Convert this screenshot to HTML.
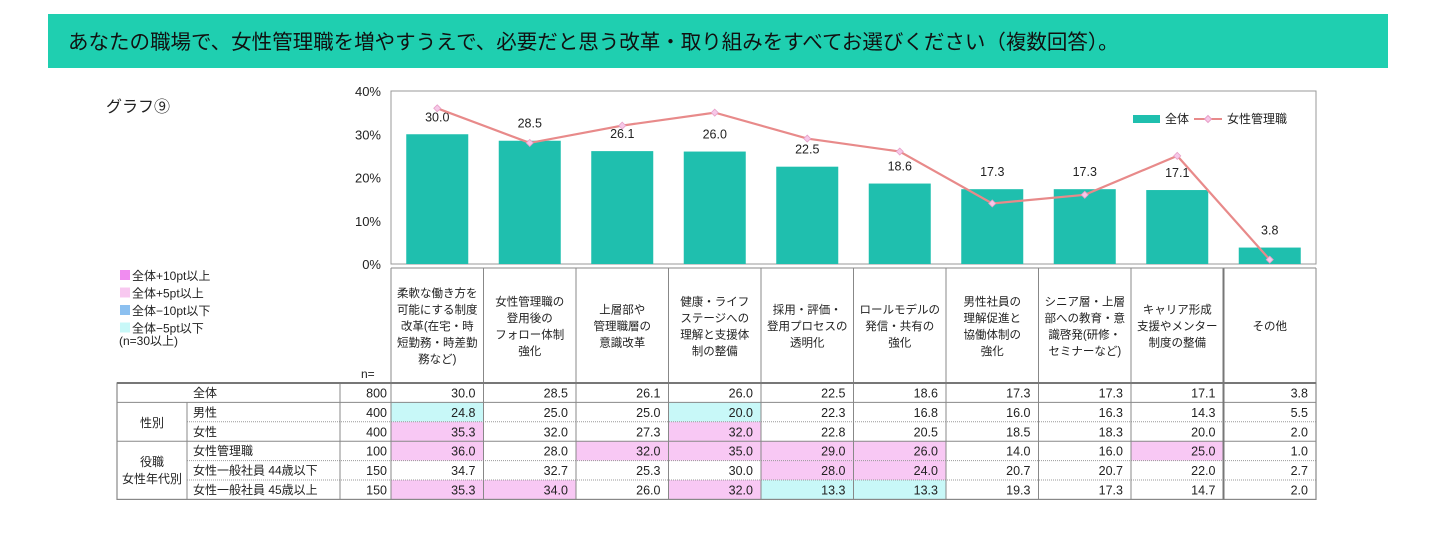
<!DOCTYPE html>
<html><head><meta charset="utf-8">
<style>
body{margin:0;background:#fff;width:1438px;height:531px;overflow:hidden;font-family:"Liberation Sans","Noto Sans CJK JP",sans-serif;}
svg text{font-family:"Liberation Sans","Noto Sans CJK JP",sans-serif;fill:#222;}
</style></head>
<body>
<svg id="c" width="1438" height="531" xmlns="http://www.w3.org/2000/svg">
<rect x="48" y="14" width="1340" height="54" fill="#1fcfb0"/>
<text x="68" y="49" font-size="20.5" style="fill:#111">あなたの職場で、女性管理職を増やすうえで、必要だと思う改革・取り組みをすべてお選びください（複数回答）。</text>
<text x="106" y="112" font-size="16">グラフ⑨</text>
</svg>
<script>
const categories=[["柔軟な働き方を","可能にする制度","改革(在宅・時","短勤務・時差勤","務など)"],["女性管理職の","登用後の","フォロー体制","強化"],["上層部や","管理職層の","意識改革"],["健康・ライフ","ステージへの","理解と支援体","制の整備"],["採用・評価・","登用プロセスの","透明化"],["ロールモデルの","発信・共有の","強化"],["男性社員の","理解促進と","協働体制の","強化"],["シニア層・上層","部への教育・意","識啓発(研修・","セミナーなど)"],["キャリア形成","支援やメンター","制度の整備"],["その他"]];
const totalValues=[30.0,28.5,26.1,26.0,22.5,18.6,17.3,17.3,17.1,3.8];
const managerValues=[36,28,32,35,29,26,14,16,25,1];
const yTicks=[0,10,20,30,40];
const rowLabels=["全体","男性","女性","女性管理職","女性一般社員 44歳以下","女性一般社員 45歳以上"];
const rowN=[800,400,400,100,150,150];
const tableValues=[
[30.0,28.5,26.1,26.0,22.5,18.6,17.3,17.3,17.1,3.8],
[24.8,25.0,25.0,20.0,22.3,16.8,16.0,16.3,14.3,5.5],
[35.3,32.0,27.3,32.0,22.8,20.5,18.5,18.3,20.0,2.0],
[36.0,28.0,32.0,35.0,29.0,26.0,14.0,16.0,25.0,1.0],
[34.7,32.7,25.3,30.0,28.0,24.0,20.7,20.7,22.0,2.7],
[35.3,34.0,26.0,32.0,13.3,13.3,19.3,17.3,14.7,2.0]];
const NS="http://www.w3.org/2000/svg";
const svg=document.getElementById('c');
function el(t,a,txt){const e=document.createElementNS(NS,t);for(const k in a)e.setAttribute(k,a[k]);if(txt!==undefined)e.textContent=txt;svg.appendChild(e);return e;}
const X0=391,X1=1316,Y0=264,Y40=91;
const cw=(X1-X0)/categories.length;
const yS=v=>Y0-(v/40)*(Y0-Y40);
const xC=i=>X0+cw*(i+0.5);
let f=el('rect',{x:X0,y:Y40,width:X1-X0,height:Y0-Y40,fill:'none',stroke:'#999','stroke-width':1});


yTicks.forEach(t=>{const e=el('text',{x:381,y:yS(t)+5,'font-size':13,'text-anchor':'end'},t+'%');

});
totalValues.forEach((v,i)=>{
const b=el('rect',{x:xC(i)-31,y:yS(v),width:62,height:Y0-yS(v),fill:'#1fbfae'});


const l=el('text',{x:xC(i),y:yS(v)-13,'font-size':12.5,'text-anchor':'middle'},v.toFixed(1));


});
const pts=managerValues.map((v,i)=>xC(i)+','+yS(v)).join(' ');
const pl=el('polyline',{points:pts,fill:'none',stroke:'#e88a8a','stroke-width':2.2});


managerValues.forEach((v,i)=>{const x=xC(i),y=yS(v);
const d=el('polygon',{points:`${x},${y-3.5} ${x+3.5},${y} ${x},${y+3.5} ${x-3.5},${y}`,fill:'#f6c8e8',stroke:'#e8a0c8','stroke-width':0.8});

});
let lg=el('rect',{x:1133,y:115,width:27,height:8,fill:'#1fbfae'});


lg=el('text',{x:1165,y:123,'font-size':12},'全体');


lg=el('line',{x1:1194,y1:119,x2:1222,y2:119,stroke:'#e88a8a','stroke-width':2});


lg=el('polygon',{points:'1208,115.5 1211.5,119 1208,122.5 1204.5,119',fill:'#f6c8e8',stroke:'#e8a0c8'});


lg=el('text',{x:1227,y:123,'font-size':12},'女性管理職');


const keyC=['#f08cf0','#f8c8f0','#8cc0f0','#c8f8f8'];
const keyT=['全体+10pt以上','全体+5pt以上','全体−10pt以下','全体−5pt以下'];
keyT.forEach((t,i)=>{const y=271+i*17.5;
const r=el('rect',{x:120,y:y-1,width:10,height:10,fill:keyC[i]});


const tx=el('text',{x:132,y:y+9,'font-size':12},t);

});
let kn=el('text',{x:119,y:345,'font-size':12},'(n=30以上)');


const HT=268,HB=383;
for(let i=0;i<=categories.length;i++){const x=X0+cw*i;
const ln=el('line',{x1:x,y1:HT,x2:x,y2:HB,stroke:i==9?'#777':'#888','stroke-width':i==9?2:1});

}
let hl=el('line',{x1:X0,y1:HT,x2:X1,y2:HT,stroke:'#888'});


categories.forEach((c,i)=>{const lh=16.5;const y0=326-(c.length-1)*lh/2;
c.forEach((s,j)=>{const t=el('text',{x:xC(i),y:y0+j*lh+4,'font-size':11.5,'text-anchor':'middle'},s);

});});
let nl=el('text',{x:361,y:378,'font-size':12},'n=');


const RT=383,RH=19.4,TL=117;
const hi={'1-0':'c','1-3':'c','2-0':'p','2-3':'p','3-0':'p','3-2':'p','3-3':'p','3-4':'p','3-5':'p','3-8':'p','4-4':'p','4-5':'p','5-0':'p','5-1':'p','5-3':'p','5-4':'c','5-5':'c'};
tableValues.forEach((row,r)=>{const y=RT+r*RH;
row.forEach((v,i)=>{const k=r+'-'+i;
if(hi[k]){const h=el('rect',{x:X0+cw*i,y:y,width:cw,height:RH,fill:hi[k]=='p'?'#f8c8f4':'#c8f8f8'});

}
const t=el('text',{x:X0+cw*(i+1)-8,y:y+14.5,'font-size':12.5,'text-anchor':'end'},v.toFixed(1));

});
const n=el('text',{x:X0-4,y:y+14.5,'font-size':12.5,'text-anchor':'end'},rowN[r]);


const lb=el('text',{x:193,y:y+14,'font-size':12},rowLabels[r]);


if(r>0){const solid=(r==1||r==3);
const ln=el('line',{x1:solid?TL:187,y1:y,x2:X1,y2:y,stroke:solid?'#888':'#999','stroke-dasharray':solid?'':'1,1'});

}
});
const TB=RT+6*RH;
let g1=el('text',{x:152,y:RT+2*RH+5,'font-size':12,'text-anchor':'middle'},'性別');


g1=el('text',{x:152,y:466,'font-size':12,'text-anchor':'middle'},'役職');


g1=el('text',{x:152,y:483,'font-size':12,'text-anchor':'middle'},'女性年代別');


let fr=el('rect',{x:TL,y:RT,width:X1-TL,height:TB-RT,fill:'none',stroke:'#888','stroke-width':1.2});


[[187,RT+RH],[X0,RT],[340,RT]].forEach(([x,y])=>{const l=el('line',{x1:x,y1:y,x2:x,y2:TB,stroke:'#888'});

});
for(let i=1;i<categories.length;i++){const x=X0+cw*i;
const l=el('line',{x1:x,y1:RT,x2:x,y2:TB,stroke:i==9?'#777':'#888','stroke-width':i==9?2:1});

}
let tl=el('line',{x1:TL,y1:RT,x2:X1,y2:RT,stroke:'#777','stroke-width':2});


</script>
</body></html>
